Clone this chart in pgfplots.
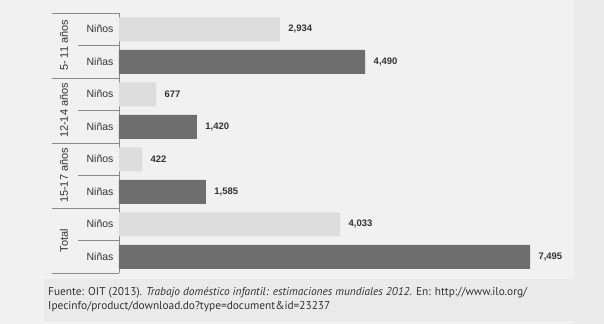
\documentclass[border=0pt]{standalone}
\usepackage{fontspec}
\setmainfont{Liberation Sans}
\newfontfamily\notefont{PT Sans}
\usepackage{pgfplots}
\pgfplotsset{compat=1.18}
\definecolor{bg}{HTML}{F1F1F1}
\definecolor{boxbg}{HTML}{EAEAEA}
\definecolor{ninos}{HTML}{DDDDDD}
\definecolor{ninas}{HTML}{6E6E6E}
\definecolor{linec}{HTML}{8A8A8A}
\definecolor{txt}{HTML}{333333}
\begin{document}
\begin{tikzpicture}
\fill[bg] (0,0) rectangle (604bp,324bp);
\fill[boxbg] (44bp,3bp) rectangle (578bp,45bp);
\fill[black!8] (574bp,0bp) rectangle (604bp,324bp);
\begin{axis}[
  at={(119bp,51bp)}, anchor=south west,
  scale only axis, width=438.7bp, height=260bp,
  xbar, bar width=24bp, bar shift=0pt,
  xmin=0, xmax=8000, ymin=-0.5, ymax=7.5, y dir=reverse,
  hide x axis,
  axis y line*=left, y axis line style={-, draw=linec},
  ytick={0,...,7}, major tick length=0pt,
  yticklabels={Niños,Niñas,Niños,Niñas,Niños,Niñas,Niños,Niñas},
  yticklabel style={anchor=center, xshift=-19bp, font=\fontsize{10.5}{12}\selectfont, text=txt},
  /pgf/number format/assume math mode=true,
  /pgf/number format/1000 sep={,},
  nodes near coords,
  point meta=x,
  nodes near coords style={anchor=west, xshift=5bp, font=\bfseries\fontsize{9.5}{11}\selectfont, text=txt},
  clip=false,
]
\addplot[fill=ninos, draw=none] coordinates {(2934,0) (677,2) (422,4) (4033,6)};
\addplot[fill=ninas, draw=none] coordinates {(4490,1) (1420,3) (1585,5) (7495,7)};
\pgfplotsinvokeforeach{-0.5,1.5,3.5,5.5,7.5}{
  \draw[linec] (axis cs:0,#1) -- ++(-67bp,0bp);
}
\pgfplotsinvokeforeach{0.5,2.5,4.5,6.5}{
  \draw[linec] (axis cs:0,#1) -- ++(-41bp,0bp);
}
\path (axis cs:0,0.5) ++(-55bp,0bp) node[rotate=90, text=txt, font=\fontsize{11}{12}\selectfont] {5- 11 años};
\path (axis cs:0,2.5) ++(-55bp,0bp) node[rotate=90, text=txt, font=\fontsize{11}{12}\selectfont] {12-14 años};
\path (axis cs:0,4.5) ++(-55bp,0bp) node[rotate=90, text=txt, font=\fontsize{11}{12}\selectfont] {15-17 años};
\path (axis cs:0,6.5) ++(-55bp,0bp) node[rotate=90, text=txt, font=\fontsize{11}{12}\selectfont] {Total};
\end{axis}
\node[anchor=north west, align=left, inner sep=0pt, text=txt, font=\notefont\fontsize{11.4}{14}\selectfont] at (48bp,37bp)
 {Fuente: OIT (2013). \textit{Trabajo doméstico infantil: estimaciones mundiales 2012.} En: http://www.ilo.org/\\
  Ipecinfo/product/download.do?type=document\&id=23237};
\end{tikzpicture}
\end{document}
